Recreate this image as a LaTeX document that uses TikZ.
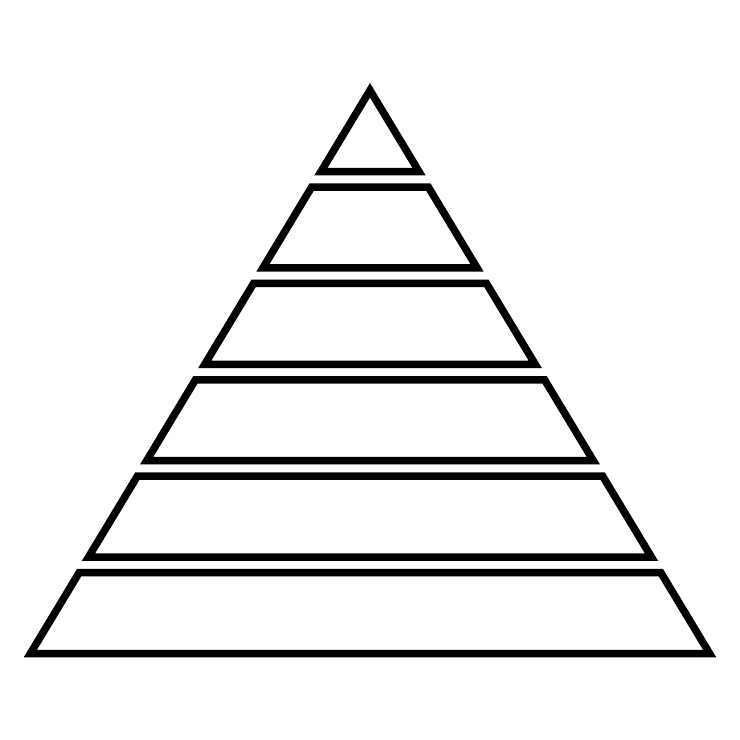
\documentclass[tikz,border=0pt]{standalone}
\usepackage{tikz}
\usetikzlibrary{calc}
\tikzset{
    x=1pt, y=-1pt, line join=miter,
    layer/.style={draw, line width=7.5pt},
}
\newcommand{\halfw}[1]{0.603*(#1-90.3)}

\begin{document}
\begin{tikzpicture}
    \useasboundingbox (0,0) rectangle (740,740);

    % top of the pyramid
    \draw[layer] (370,90.3) -- ({370-\halfw{171.5}},171.5)
        -- ({370+\halfw{171.5}},171.5) -- cycle;

    % the five bands below it
    \foreach \i in {1,...,5} {
        \pgfmathsetmacro{\ytop}{171.5+96.4*(\i-1)+15.5}
        \pgfmathsetmacro{\ybot}{171.5+96.4*\i}
        \pgfmathsetmacro{\wtop}{\halfw{\ytop}}
        \pgfmathsetmacro{\wbot}{\halfw{\ybot}}
        \draw[layer] (370-\wtop,\ytop) -- (370+\wtop,\ytop)
            -- (370+\wbot,\ybot) -- (370-\wbot,\ybot) -- cycle;
    }
\end{tikzpicture}
\end{document}
